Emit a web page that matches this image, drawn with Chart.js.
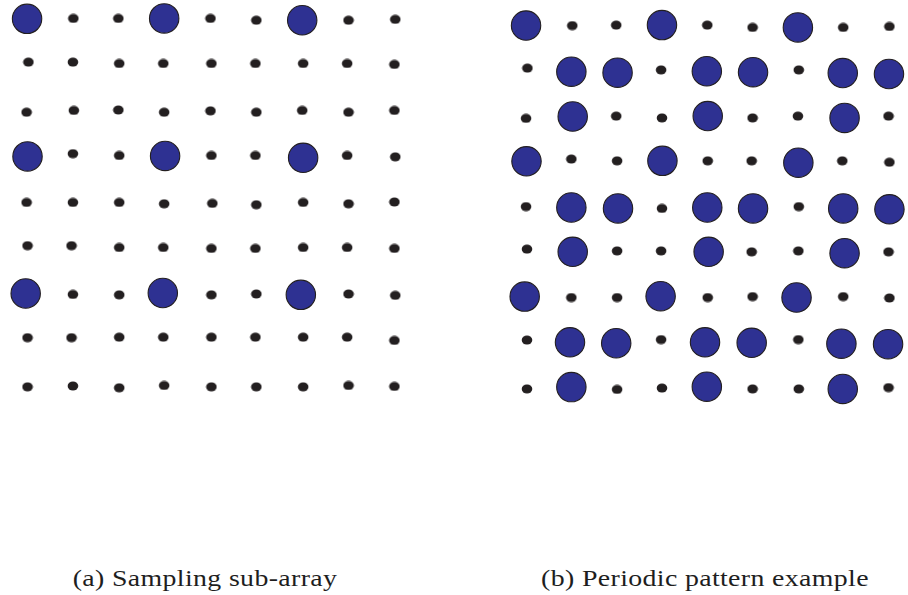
<!DOCTYPE html>
<html>
<head>
<meta charset="utf-8">
<script src="https://cdn.jsdelivr.net/npm/chart.js@4.4.0/dist/chart.umd.min.js"></script>
<style>
  html, body { margin: 0; padding: 0; background: #fff; }
  body { width: 908px; height: 595px; position: relative; overflow: hidden; }
  canvas { position: absolute; top: 0; }
  #panelA { left: 0; }
  #panelB { left: 454px; }
  .cap {
    position: absolute; top: 566px;
    font-family: "Liberation Serif", "DejaVu Serif", serif;
    font-size: 23px; line-height: 26px; color: #1e1e1e;
    letter-spacing: 0.3px;
    white-space: nowrap; transform: translateX(-50%) scaleX(1.21);
  }
</style>
</head>
<body>
<canvas id="panelA" width="454" height="414"></canvas>
<canvas id="panelB" width="454" height="414"></canvas>
<div class="cap" id="capA" style="left:205px">(a) Sampling sub-array</div>
<div class="cap" id="capB" style="left:705px">(b) Periodic pattern example</div>

<script>
// Element positions in grid units (column, row), one inner array per row.
const sampleX = [
  [-0.01, 1.00, 1.98, 2.98, 3.99, 4.99, 5.99, 7.00, 8.02],
  [ 0.02, 0.99, 2.00, 2.96, 4.01, 4.97, 6.01, 6.97, 8.00],
  [-0.02, 1.01, 1.98, 2.98, 3.99, 4.99, 5.99, 7.00, 8.00],
  [ 0.00, 0.99, 2.00, 3.00, 4.01, 4.97, 6.01, 6.97, 8.02],
  [-0.02, 0.99, 2.00, 2.98, 4.03, 4.99, 6.01, 7.00, 8.00],
  [ 0.00, 0.96, 2.00, 2.96, 4.01, 4.97, 6.01, 6.97, 8.00],
  [-0.04, 0.99, 2.00, 2.95, 4.01, 4.99, 5.96, 7.00, 8.02],
  [ 0.00, 0.96, 2.00, 2.96, 4.01, 4.97, 6.01, 6.97, 8.00],
  [ 0.00, 0.99, 2.00, 2.98, 4.01, 4.99, 6.01, 7.00, 8.00]
];
const sampleY = [
  [0.01, 0.00, 0.00, 0.00, 0.00, 0.04, 0.04, 0.04, 0.02],
  [0.95, 0.95, 0.98, 0.98, 0.98, 0.98, 0.98, 0.98, 1.00],
  [2.04, 2.00, 1.99, 2.04, 2.01, 2.04, 2.00, 2.04, 2.00],
  [3.00, 2.94, 2.98, 2.99, 2.98, 2.98, 3.03, 2.98, 3.01],
  [4.00, 4.00, 4.00, 4.03, 4.02, 4.05, 4.00, 4.03, 3.99],
  [4.94, 4.94, 4.98, 4.98, 5.00, 5.00, 4.98, 4.98, 5.00],
  [5.98, 6.00, 6.01, 5.97, 6.01, 5.99, 6.01, 5.99, 6.02],
  [6.94, 6.94, 6.93, 6.93, 6.93, 6.93, 6.93, 6.93, 7.00],
  [8.01, 7.99, 8.03, 7.98, 8.01, 8.01, 8.01, 7.98, 8.00]
];
// "X" = selected element (large circle), "." = ordinary element (dot)
const sampleMarks = [
  "X..X..X..", ".........", ".........",
  "X..X..X..", ".........", ".........",
  "X..X..X..", ".........", "........."
];

const periodicX = [
  [-0.01, 1.01, 1.98, 2.99, 3.99, 4.99, 5.99, 6.99, 8.01],
  [ 0.02, 0.99, 2.01, 2.97, 3.98, 5.00, 6.01, 6.98, 8.00],
  [-0.01, 1.02, 1.98, 2.99, 4.00, 4.99, 5.99, 7.02, 7.99],
  [ 0.00, 0.99, 2.00, 3.00, 4.00, 4.97, 6.00, 6.97, 8.01],
  [-0.01, 0.99, 2.02, 2.99, 3.99, 5.00, 6.01, 6.99, 8.01],
  [ 0.01, 1.02, 2.00, 2.97, 4.02, 4.97, 6.00, 7.02, 7.99],
  [-0.04, 0.99, 2.00, 2.96, 4.00, 4.99, 5.96, 6.99, 8.01],
  [ 0.01, 0.96, 1.98, 2.97, 3.94, 4.97, 6.00, 6.95, 7.98],
  [ 0.01, 0.99, 2.00, 2.99, 3.98, 4.99, 6.01, 6.98, 7.99]
];
const periodicY = [
  [-0.01, -0.01, -0.02, -0.02, -0.02, 0.03, 0.03, 0.03, 0.01],
  [ 0.93,  1.01,  1.03,  0.97,  1.00, 1.02, 0.97, 1.04, 1.06],
  [ 2.04,  2.00,  1.99,  2.03,  1.99, 2.03, 1.99, 2.03, 1.99],
  [ 2.99,  2.94,  2.98,  2.98,  2.98, 2.98, 3.02, 2.98, 3.01],
  [ 3.99,  4.01,  4.03,  4.03,  4.01, 4.03, 3.99, 4.03, 4.05],
  [ 4.93,  4.99,  4.97,  4.97,  4.99, 4.99, 4.97, 5.02, 4.99],
  [ 5.98,  6.00,  6.00,  5.97,  6.00, 5.98, 6.00, 5.98, 6.01],
  [ 6.94,  6.99,  7.01,  6.93,  6.99, 7.00, 6.93, 7.02, 7.03],
  [ 8.02,  7.98,  8.03,  8.00,  7.97, 8.02, 8.02, 8.02, 7.99]
];
const periodicMarks = [
  "X..X..X..", ".XX.XX.XX", ".X..X..X.",
  "X..X..X..", ".XX.XX.XX", ".X..X..X.",
  "X..X..X..", ".XX.XX.XX", ".X..X..X."
];

const FILL_SEL = '#2e3192';
const INK = '#231f20';

// Ordinary elements are printed as slightly flattened dots.
function makeDot() {
  const c = document.createElement('canvas');
  c.width = 12; c.height = 10;
  const g = c.getContext('2d');
  g.fillStyle = INK;
  g.beginPath();
  g.ellipse(6, 5, 5.3, 4.5, 0, 0, Math.PI * 2);
  g.fill();
  return c;
}
const dotImg = makeDot();

function split(xs, ys, marks) {
  const big = [], small = [];
  for (let r = 0; r < xs.length; r++) {
    for (let c = 0; c < xs[r].length; c++) {
      const p = { x: xs[r][c], y: ys[r][c] };
      (marks[r][c] === 'X' ? big : small).push(p);
    }
  }
  return { big, small };
}

function drawPanel(id, xs, ys, marks, xr, yr) {
  const pts = split(xs, ys, marks);
  new Chart(document.getElementById(id), {
    type: 'scatter',
    data: {
      datasets: [
        {
          data: pts.small,
          pointStyle: dotImg,
          pointRadius: 5,
          clip: false
        },
        {
          data: pts.big,
          pointStyle: 'circle',
          pointRadius: 14.7,
          backgroundColor: FILL_SEL,
          borderColor: INK,
          borderWidth: 1.1,
          clip: false
        }
      ]
    },
    options: {
      responsive: false,
      animation: false,
      events: [],
      layout: { padding: 0, autoPadding: false },
      plugins: { legend: { display: false }, tooltip: { enabled: false } },
      scales: {
        x: { type: 'linear', display: false, min: xr[0], max: xr[1] },
        y: { type: 'linear', display: false, reverse: true, min: yr[0], max: yr[1] }
      }
    }
  });
}

drawPanel('panelA', sampleX, sampleY, sampleMarks, [-0.6, 9.3], [-0.4, 8.6]);
drawPanel('panelB', periodicX, periodicY, periodicMarks, [-1.6, 8.42], [-0.575, 8.574]);
</script>
</body>
</html>
